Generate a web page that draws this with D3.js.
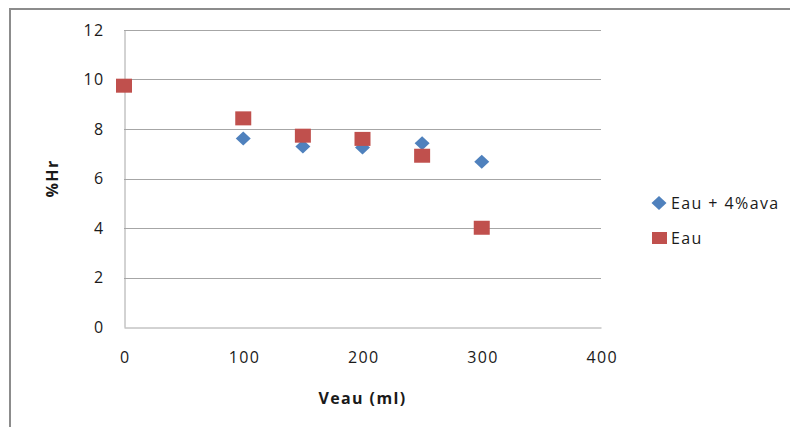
<!DOCTYPE html>
<html>
<head>
<meta charset="utf-8">
<script src="https://cdn.jsdelivr.net/npm/d3@7"></script>
<style>
  html, body { margin: 0; padding: 0; background: #fff; }
  svg { display: block; }
  text { font-family: "Open Sans", "Noto Sans", sans-serif; fill: #1a1a1a; letter-spacing: 1.4px; }
</style>
</head>
<body>
<svg id="chart" width="790" height="427"></svg>
<script>
// Water volume (ml) and relative humidity (%Hr) for two mixtures
const volumesAva = [100, 150, 200, 250, 300];
const hrAva = [7.62, 7.29, 7.25, 7.42, 6.68];
const volumesEau = [0, 100, 150, 200, 250, 300];
const hrEau = [9.75, 8.43, 7.73, 7.6, 6.92, 4.01];
const xTicks = [0, 100, 200, 300, 400];
const yTicks = [0, 2, 4, 6, 8, 10, 12];
const seriesNames = ["Eau + 4%ava", "Eau"];

const colorAva = "#4f81bd";
const colorEau = "#c0504d";

const svg = d3.select("#chart");
const plot = { left: 124, top: 30, right: 601, bottom: 327 };

const x = d3.scaleLinear().domain([0, 400]).range([plot.left, plot.right]);
const y = d3.scaleLinear().domain([0, 12]).range([plot.bottom, plot.top]);

// outer frame (top and left edges visible)
svg.append("path")
  .attr("d", "M10,427 L10,9 L790,9")
  .attr("fill", "none")
  .attr("stroke", "#8c8c8c")
  .attr("stroke-width", 2);

// horizontal gridlines
svg.append("g")
  .selectAll("line")
  .data(yTicks.filter(d => d > 0))
  .join("line")
  .attr("x1", plot.left).attr("x2", plot.right)
  .attr("y1", d => Math.round(y(d)) + 0.5).attr("y2", d => Math.round(y(d)) + 0.5)
  .attr("stroke", "#a6a6a6").attr("stroke-width", 1);

// y axis
const yAxis = svg.append("g")
  .attr("transform", `translate(${plot.left + 0.5},0)`)
  .call(d3.axisLeft(y).tickValues(yTicks).tickSize(0).tickPadding(20).tickFormat(d3.format("d")));
yAxis.select(".domain").attr("stroke", "#a6a6a6");
yAxis.selectAll("text").style("font-size", "16px").attr("fill", "#1a1a1a");

// x axis
const xAxis = svg.append("g")
  .attr("transform", `translate(0,${Math.round(plot.bottom) + 0.5})`)
  .call(d3.axisBottom(x).tickValues(xTicks).tickSize(0).tickPadding(24).tickFormat(d3.format("d")));
xAxis.select(".domain").attr("stroke", "#a6a6a6");
xAxis.selectAll("text").style("font-size", "16px").attr("fill", "#1a1a1a").attr("dx", "0.7px");

// axis titles
svg.append("text")
  .attr("transform", `translate(52,${(plot.top + plot.bottom) / 2}) rotate(-90)`)
  .attr("text-anchor", "middle").attr("dy", "0.35em")
  .style("font-size", "16px").style("font-weight", "bold")
  .text("%Hr");

svg.append("text")
  .attr("x", (plot.left + plot.right) / 2).attr("y", 398)
  .attr("text-anchor", "middle").attr("dy", "0.35em")
  .style("font-size", "16px").style("font-weight", "bold")
  .text("Veau (ml)");

const diamond = "M0,-7 L7.5,0 L0,7 L-7.5,0 Z";

// Eau + 4%ava : blue diamonds
svg.append("g")
  .selectAll("path")
  .data(volumesAva.map((v, i) => [v, hrAva[i]]))
  .join("path")
  .attr("d", diamond)
  .attr("transform", d => `translate(${x(d[0])},${y(d[1])})`)
  .attr("fill", colorAva);

// Eau : red squares
svg.append("g")
  .selectAll("rect")
  .data(volumesEau.map((v, i) => [v, hrEau[i]]))
  .join("rect")
  .attr("x", d => x(d[0]) - 8).attr("y", d => y(d[1]) - 7)
  .attr("width", 16).attr("height", 14)
  .attr("fill", colorEau);

// legend
const legend = svg.append("g");
legend.append("path").attr("d", diamond).attr("transform", "translate(659,203)").attr("fill", colorAva);
legend.append("text").attr("x", 671).attr("y", 203).attr("dy", "0.35em")
  .style("font-size", "16px").text(seriesNames[0]);
legend.append("rect").attr("x", 652).attr("y", 232).attr("width", 15).attr("height", 12).attr("fill", colorEau);
legend.append("text").attr("x", 671).attr("y", 238).attr("dy", "0.35em")
  .style("font-size", "16px").text(seriesNames[1]);
</script>
</body>
</html>
